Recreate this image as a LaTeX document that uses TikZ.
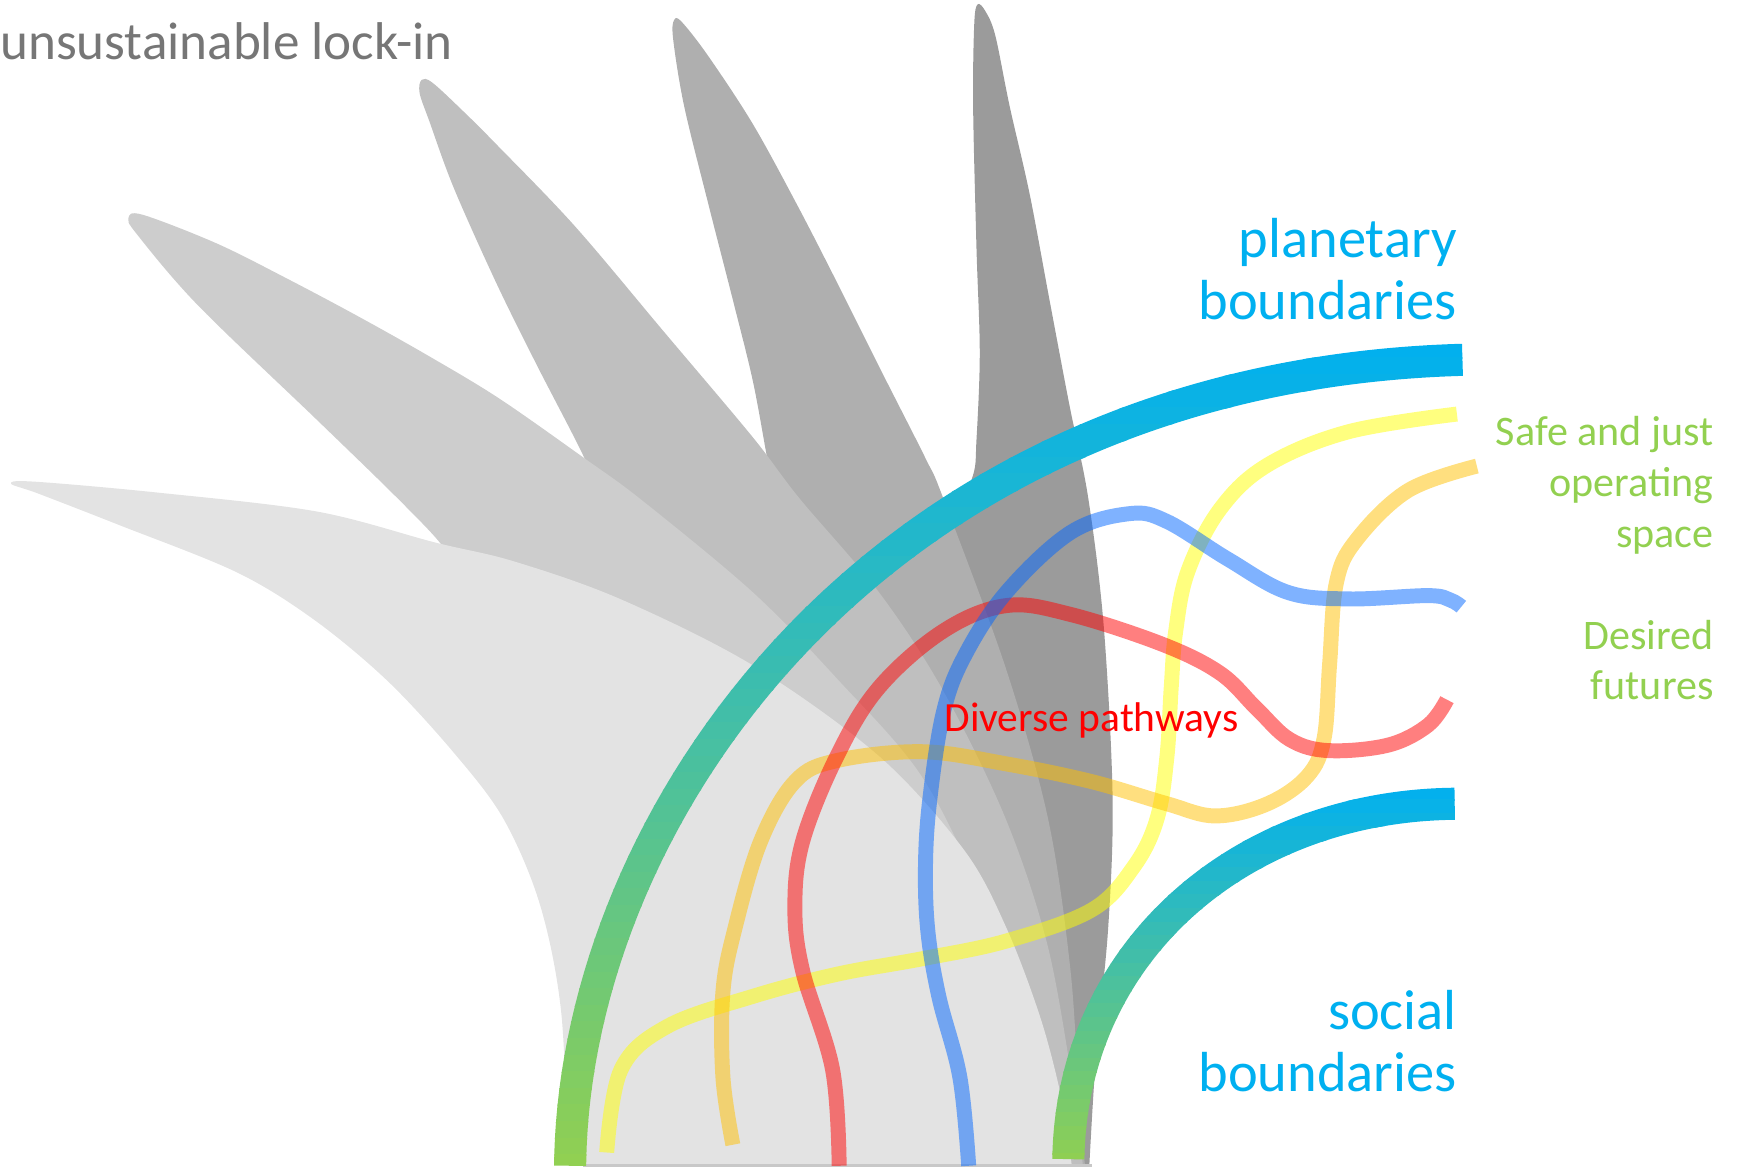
\documentclass[tikz,border=0pt]{standalone}
\usepackage{fontspec}
\setmainfont{Carlito}
\definecolor{leafAc}{RGB}{227,227,227}
\definecolor{leafBc}{RGB}{205,205,205}
\definecolor{leafCc}{RGB}{191,191,191}
\definecolor{leafDc}{RGB}{175,175,175}
\definecolor{leafEc}{RGB}{155,155,155}
\definecolor{pbBlue}{RGB}{0,176,240}
\definecolor{pbGreen}{RGB}{146,208,80}
\definecolor{pwYellow}{RGB}{255,255,0}
\definecolor{pwOrange}{RGB}{255,192,0}
\definecolor{pwRed}{RGB}{255,0,0}
\definecolor{pwBlue}{RGB}{0,102,255}
\definecolor{lockGray}{RGB}{118,118,118}
\definecolor{baseGray}{RGB}{200,200,200}
\newcommand\fsBlue{\fontsize{51}{60}\selectfont}
\newcommand\fsGreen{\fontsize{38}{46}\selectfont}
\newcommand\fsLock{\fontsize{48}{58}\selectfont}
\newcommand\fsRed{\fontsize{37.5}{45}\selectfont}
\begin{document}
\begin{tikzpicture}[x=1pt,y=-1pt,
  pway/.style={line width=13.5pt, opacity=0.5},
  bound/.style={line width=29pt},
  lblR/.style={inner sep=0pt, anchor=base east},
  lblL/.style={inner sep=0pt, anchor=base west},
  bluetxt/.style={lblR, font=\fsBlue, text=pbBlue},
  greentxt/.style={lblR, font=\fsGreen, text=pbGreen}]
\useasboundingbox (0,0) rectangle (1569,1058);

% ---- grey leaves (darkest first) ----
\fill[leafEc] (950,1052) -- (850,600) -- plot[smooth,tension=0.55] coordinates {(862,468) (879,429) (882,398) (885,319) (882,223) (879,96) (880,22) (883,4) (890,10) (899,32) (912,96) (930,175) (948,271) (966,366) (983,450) (997,566) (1005,721) (1001,838) (990,954) (984,1052)} -- cycle;
\fill[leafDc] (540,1052) -- (680,500) -- plot[smooth,tension=0.55] coordinates {(700,450) (693,414) (680,344) (662,271) (640,185) (618,96) (608,35) (609,18) (616,20) (640,51) (680,112) (720,185) (756,255) (796,335) (836,414) (852,450) (909,605) (947,741) (967,877) (975,1000) (980,1052)} -- cycle;
\fill[leafCc] (540,1052) -- (540,520) -- plot[smooth,tension=0.55] coordinates {(535,440) (528,414) (484,328) (448,255) (410,170) (388,110) (379,84) (381,72) (391,75) (420,102) (448,130) (519,204) (600,300) (680,395) (722,450) (794,535) (852,624) (909,741) (947,857) (971,993) (978,1052)} -- cycle;
\fill[leafBc] (540,1052) -- (520,800) -- (430,560) -- plot[smooth,tension=0.55] coordinates {(410,515) (398,491) (357,448) (286,379) (179,276) (124,212) (116,197) (129,194) (196,220) (260,252) (324,286) (388,322) (451,360) (528,414) (580,452) (680,535) (756,613) (833,702) (890,818) (947,973) (963,1052)} -- cycle;
\fill[leafAc] plot[smooth,tension=0.55] coordinates {(513,1052) (507,915) (488,818) (455,740) (410,680) (350,615) (284,560) (214,517) (107,474) (35,446) (10,437) (30,435) (143,445) (286,462) (393,490) (464,507) (560,541) (680,601) (794,683) (871,768) (909,838) (940,920) (959,993) (968,1052)} -- cycle;
\draw[baseGray, line width=3pt] (527,1053) -- (986,1053);

% ---- pathways ----
\draw[pway, pwYellow] plot[smooth,tension=0.6] coordinates {(548,1041) (561,966) (603,927) (680,900) (756,880) (833,866) (909,850) (986,822) (1024,783) (1045,740) (1054,684) (1058,620) (1062,570) (1073,516) (1102,460) (1145,420) (1218,390) (1316,374)};
\draw[pway, pwOrange] plot[smooth,tension=0.6] coordinates {(662,1034) (653,973) (653,896) (664,838) (687,760) (718,706) (756,687) (833,679) (909,690) (986,706) (1054,726) (1098,737) (1145,726) (1181,701) (1196,667) (1201,600) (1207,527) (1225,488) (1272,443) (1334,421)};
\draw[pway, pwRed] plot[smooth,tension=0.6] coordinates {(758,1053) (752,966) (725,877) (718,820) (725,760) (756,683) (794,621) (852,570) (909,547) (967,555) (1050,582) (1102,608) (1135,640) (1165,668) (1200,678) (1254,673) (1290,655) (1307,632)};
\draw[pway, pwBlue] plot[smooth,tension=0.6] coordinates {(875,1053) (867,973) (848,900) (838,840) (836,780) (840,721) (852,644) (871,593) (909,535) (967,481) (1020,464) (1054,471) (1109,505) (1163,535) (1218,541) (1290,538) (1310,542) (1320,548)};

% ---- boundaries (vertical green-to-blue gradient along the stroke) ----
\foreach \k in {0,...,49} {
  \pgfmathsetmacro\ya{308+\k*15}
  \pgfmathsetmacro\yb{\ya+15.8}
  \pgfmathsetmacro\pc{100-100*(\k+0.5)/50}
  \begin{scope}
    \clip (400,\ya) rectangle (1400,\yb);
    \draw[bound, pbBlue!\pc!pbGreen] (515,1053) .. controls (518,740) and (790,340) .. (1321,325);
  \end{scope}
}
\foreach \k in {0,...,27} {
  \pgfmathsetmacro\ya{710+\k*12.3}
  \pgfmathsetmacro\yb{\ya+13}
  \pgfmathsetmacro\pc{100-100*(\k+0.5)/28}
  \begin{scope}
    \clip (900,\ya) rectangle (1400,\yb);
    \draw[bound, pbBlue!\pc!pbGreen] (965,1047) .. controls (968,860) and (1120,728) .. (1314,726);
  \end{scope}
}

% ---- texts ----
\node[lblL, font=\fsLock, text=lockGray] (lockin) at (0,53.5) {unsustainable lock-in};
\node[bluetxt] (pb1) at (1316,233) {planetary};
\node[bluetxt] (pb2) at (1316,289) {boundaries};
\node[bluetxt] (sb1) at (1316,930) {social};
\node[bluetxt] (sb2) at (1316,986) {boundaries};
\node[greentxt] (sj1) at (1548,402) {Safe and just};
\node[greentxt] (sj2) at (1548,448.6) {operating};
\node[greentxt] (sj3) at (1548,494.5) {space};
\node[greentxt] (df1) at (1548,587) {Desired};
\node[greentxt] (df2) at (1548,632) {futures};
\node[lblL, font=\fsRed, text=pwRed] (dp) at (853,661) {Diverse pathways};
\end{tikzpicture}
\end{document}
